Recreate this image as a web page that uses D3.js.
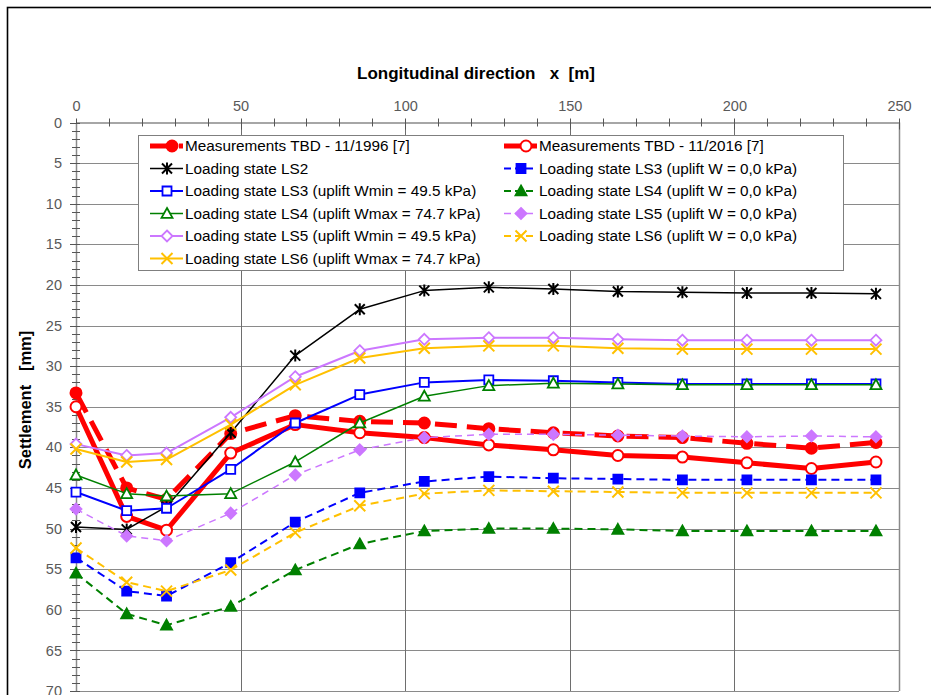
<!DOCTYPE html>
<html>
<head>
<meta charset="utf-8">
<script src="https://cdn.jsdelivr.net/npm/d3@7"></script>
<style>
  body { margin: 0; background: #fff; }
  svg { display: block; font-family: "Liberation Sans", Arial, sans-serif; }
</style>
</head>
<body>
<div id="chart"></div>
<script>

// positions along the tunnel [m]
var xPos = [0, 15.4, 27.5, 47, 66.6, 86.2, 105.8, 125.4, 145, 164.6, 184.2, 203.8, 223.4, 243];

// settlements [mm]
var meas1996 = [33.3, 45.0, 46.4, 38.3, 36.1, 36.8, 37.0, 37.7, 38.2, 38.6, 38.8, 39.5, 40.1, 39.4];
var meas2016 = [35.0, 48.5, 50.2, 40.7, 37.2, 38.2, 38.8, 39.7, 40.3, 41.0, 41.2, 41.9, 42.6, 41.8];
var ls2      = [49.8, 50.1, 47.3, 38.2, 28.7, 23.0, 20.7, 20.3, 20.5, 20.8, 20.9, 21.0, 21.0, 21.1];
var ls3w0    = [53.6, 57.7, 58.3, 54.2, 49.2, 45.6, 44.2, 43.6, 43.8, 43.9, 44.0, 44.0, 44.0, 44.0];
var ls3wmin  = [45.5, 47.8, 47.5, 42.7, 37.0, 33.5, 32.0, 31.7, 31.8, 32.0, 32.2, 32.2, 32.2, 32.2];
var ls4w0    = [55.5, 60.5, 61.9, 59.6, 55.1, 51.9, 50.3, 50.0, 50.0, 50.1, 50.3, 50.3, 50.3, 50.3];
var ls4wmax  = [43.4, 45.7, 46.0, 45.7, 41.8, 37.0, 33.7, 32.4, 32.1, 32.2, 32.3, 32.3, 32.3, 32.3];
var ls5w0    = [47.6, 50.9, 51.5, 48.1, 43.4, 40.3, 38.8, 38.4, 38.4, 38.5, 38.6, 38.7, 38.6, 38.7];
var ls5wmin  = [39.6, 41.0, 40.7, 36.3, 31.3, 28.1, 26.7, 26.5, 26.5, 26.7, 26.8, 26.8, 26.8, 26.8];
var ls6w0    = [52.4, 56.6, 57.7, 55.1, 50.5, 47.2, 45.7, 45.3, 45.4, 45.5, 45.6, 45.6, 45.6, 45.6];
var ls6wmax  = [40.2, 41.8, 41.5, 37.2, 32.3, 29.0, 27.8, 27.5, 27.5, 27.8, 27.9, 27.9, 27.9, 27.9];

var seriesNames = [
  'Measurements TBD - 11/1996 [7]',
  'Measurements TBD - 11/2016 [7]',
  'Loading state LS2',
  'Loading state LS3 (uplift W = 0,0 kPa)',
  'Loading state LS3 (uplift Wmin = 49.5 kPa)',
  'Loading state LS4 (uplift W = 0,0 kPa)',
  'Loading state LS4 (uplift Wmax = 74.7 kPa)',
  'Loading state LS5 (uplift W = 0,0 kPa)',
  'Loading state LS5 (uplift Wmin = 49.5 kPa)',
  'Loading state LS6 (uplift W = 0,0 kPa)',
  'Loading state LS6 (uplift Wmax = 74.7 kPa)'
];
var seriesValues = [meas1996, meas2016, ls2, ls3w0, ls3wmin, ls4w0, ls4wmax, ls5w0, ls5wmin, ls6w0, ls6wmax];

var xTicks = [0, 50, 100, 150, 200, 250];
var yTicks = [0, 5, 10, 15, 20, 25, 30, 35, 40, 45, 50, 55, 60, 65, 70];

// styles per series (same order as above)
var styles = [
  {color: '#ff0000', width: 5,   dash: '22,10', marker: 'circle',  fill: '#ff0000', size: 5.5},
  {color: '#ff0000', width: 5,   dash: null,   marker: 'circle',   fill: '#ffffff', size: 5.5},
  {color: '#000000', width: 1.5, dash: null,   marker: 'star',     fill: 'none',    size: 5},
  {color: '#0000ff', width: 2,   dash: '8,5',  marker: 'square',   fill: '#0000ff', size: 5},
  {color: '#0000ff', width: 2,   dash: null,   marker: 'square',   fill: '#ffffff', size: 5},
  {color: '#008000', width: 2,   dash: '8,5',  marker: 'triangle', fill: '#008000', size: 5.5},
  {color: '#008000', width: 1.5, dash: null,   marker: 'triangle', fill: '#ffffff', size: 5.5},
  {color: '#cc77ff', width: 1.5, dash: '7,5',  marker: 'diamond',  fill: '#cc77ff', size: 5.5},
  {color: '#cc77ff', width: 2,   dash: null,   marker: 'diamond',  fill: '#ffffff', size: 5.5},
  {color: '#ffc000', width: 2,   dash: '8,5',  marker: 'cross',    fill: 'none',    size: 5.5},
  {color: '#ffc000', width: 2,   dash: null,   marker: 'cross',    fill: 'none',    size: 5.5}
];

var W = 931, H = 695;
var svg = d3.select('#chart').append('svg')
    .attr('width', W)
    .attr('height', H);

// outer chart frame (cropped on right and bottom)
svg.append('rect')
    .attr('x', 7.5).attr('y', 7.5)
    .attr('width', 1000).attr('height', 1000)
    .attr('fill', '#fff')
    .attr('stroke', '#000')
    .attr('stroke-width', 1.6);

var x = d3.scaleLinear().domain([0, 250]).range([76, 899]);
var y = d3.scaleLinear().domain([0, 70]).range([122.5, 691]);

// grid
svg.append('g').selectAll('line.hgrid')
    .data(yTicks.slice(1))
    .enter().append('line')
    .attr('class', 'hgrid')
    .attr('x1', x(0) - 6).attr('x2', x(250))
    .attr('y1', function(d) { return Math.round(y(d)) + 0.5; })
    .attr('y2', function(d) { return Math.round(y(d)) + 0.5; })
    .attr('stroke', '#8a8a8a')
    .attr('stroke-width', 1);

svg.append('g').selectAll('line.vgrid')
    .data([50, 100, 150, 200])
    .enter().append('line')
    .attr('class', 'vgrid')
    .attr('x1', function(d) { return Math.round(x(d)) + 0.5; })
    .attr('x2', function(d) { return Math.round(x(d)) + 0.5; })
    .attr('y1', y(0)).attr('y2', y(70))
    .attr('stroke', '#6e6e6e')
    .attr('stroke-width', 1);

// right border of plot area
svg.append('line')
    .attr('x1', x(250) + 0.5).attr('x2', x(250) + 0.5)
    .attr('y1', y(0)).attr('y2', y(70))
    .attr('stroke', '#8a8a8a').attr('stroke-width', 1.5);

// x axis on top
var xAxis = d3.axisTop(x).tickValues(xTicks).tickSize(0).tickPadding(12);
var gx = svg.append('g')
    .attr('transform', 'translate(0,' + y(0) + ')')
    .call(xAxis);
gx.select('.domain').attr('stroke', '#a6a6a6').attr('stroke-width', 2);
gx.selectAll('text')
    .attr('fill', '#595959')
    .style('font-size', '14.5px')
    .style('font-family', '"Liberation Sans", Arial, sans-serif');

// x minor ticks every 10, major every 50
gx.selectAll('line.xminor')
    .data(d3.range(0, 251, 10))
    .enter().append('line')
    .attr('class', 'xminor')
    .attr('x1', function(d) { return Math.round(x(d)) + 0.5; })
    .attr('x2', function(d) { return Math.round(x(d)) + 0.5; })
    .attr('y1', -4)
    .attr('y2', function(d) { return d % 50 == 0 ? 7 : 4; })
    .attr('stroke', '#555')
    .attr('stroke-width', 1);

// y axis on the left
var yAxis = d3.axisLeft(y).tickValues(yTicks).tickSize(0).tickPadding(14);
var gy = svg.append('g')
    .attr('transform', 'translate(' + x(0) + ',0)')
    .call(yAxis);
gy.select('.domain').attr('stroke', '#8a8a8a').attr('stroke-width', 1.5);
gy.selectAll('text')
    .attr('fill', '#595959')
    .style('font-size', '14.5px')
    .style('font-family', '"Liberation Sans", Arial, sans-serif');

gy.selectAll('line.yminor')
    .data(d3.range(0, 71, 1))
    .enter().append('line')
    .attr('class', 'yminor')
    .attr('x1', function(d) { return d % 5 == 0 ? -6 : -4; })
    .attr('x2', 4)
    .attr('y1', function(d) { return Math.round(y(d)) + 0.5; })
    .attr('y2', function(d) { return Math.round(y(d)) + 0.5; })
    .attr('stroke', '#555')
    .attr('stroke-width', 1);

// axis titles
svg.append('text')
    .attr('x', 476).attr('y', 79)
    .attr('text-anchor', 'middle')
    .style('font-size', '17px')
    .style('font-weight', 'bold')
    .style('white-space', 'pre')
    .text('Longitudinal direction   x  [m]');

svg.append('text')
    .attr('transform', 'translate(31,400) rotate(-90)')
    .attr('text-anchor', 'middle')
    .style('font-size', '16.5px')
    .style('font-weight', 'bold')
    .style('white-space', 'pre')
    .text('Settlement   [mm]');

// marker drawing
function markerPath(type, s) {
  if (type == 'circle') return d3.symbol(d3.symbolCircle, Math.PI * s * s)();
  if (type == 'square') return d3.symbol(d3.symbolSquare, (2 * s - 1) * (2 * s - 1))();
  if (type == 'triangle') return 'M0,' + (-s) + 'L' + s + ',' + (s * 0.8) + 'L' + (-s) + ',' + (s * 0.8) + 'Z';
  if (type == 'diamond') return 'M0,' + (-s) + 'L' + s + ',0L0,' + s + 'L' + (-s) + ',0Z';
  if (type == 'cross') return 'M' + (-s) + ',' + (-s) + 'L' + s + ',' + s + 'M' + s + ',' + (-s) + 'L' + (-s) + ',' + s;
  if (type == 'star') return 'M' + (-s) + ',' + (-s) + 'L' + s + ',' + s + 'M' + s + ',' + (-s) + 'L' + (-s) + ',' + s + 'M0,' + (-s - 1) + 'L0,' + (s + 1);
  return '';
}

function drawMarker(g, st) {
  g.append('path')
    .attr('d', markerPath(st.marker, st.size))
    .attr('fill', st.fill)
    .attr('stroke', st.color)
    .attr('stroke-width', st.marker == 'circle' || st.marker == 'star' || st.marker == 'cross' ? 2 : 1.8);
}

var line = d3.line()
    .x(function(d) { return x(d.x); })
    .y(function(d) { return y(d.y); });

// series, in the order Excel drew them
seriesValues.forEach(function(vals, i) {
  var st = styles[i];
  var pts = vals.map(function(v, j) { return {x: xPos[j], y: v}; });
  var g = svg.append('g').attr('class', 'series s' + i);

  g.append('path')
    .datum(pts)
    .attr('d', line)
    .attr('fill', 'none')
    .attr('stroke', st.color)
    .attr('stroke-width', st.width)
    .attr('stroke-dasharray', st.dash)
    .attr('stroke-linejoin', 'round');

  g.selectAll('g.pt')
    .data(pts)
    .enter().append('g')
    .attr('class', 'pt')
    .attr('transform', function(d) { return 'translate(' + x(d.x) + ',' + y(d.y) + ')'; })
    .each(function() { drawMarker(d3.select(this), st); });
});

// legend
var legend = svg.append('g');
legend.append('rect')
    .attr('x', 138.5).attr('y', 135.5)
    .attr('width', 705).attr('height', 135)
    .attr('fill', '#fff')
    .attr('stroke', '#7f7f7f')
    .attr('stroke-width', 1);

var items = legend.selectAll('g.item')
    .data(seriesNames)
    .enter().append('g')
    .attr('class', 'item')
    .attr('transform', function(d, i) {
      var col = i % 2, row = Math.floor(i / 2);
      return 'translate(' + (col == 0 ? 150 : 504) + ',' + (146 + row * 22.5) + ')';
    });

items.each(function(d, i) {
  var g = d3.select(this);
  var st = styles[i];
  g.append('line')
    .attr('x1', 0).attr('x2', 33)
    .attr('y1', 0).attr('y2', 0)
    .attr('stroke', st.color)
    .attr('stroke-width', st.width)
    .attr('stroke-dasharray', st.dash ? (st.width > 3 ? '25,4' : '7,4') : null);
  var m = g.append('g').attr('transform', 'translate(' + (st.width > 3 ? 22 : 17) + ',0)');
  drawMarker(m, st);
  g.append('text')
    .attr('x', 35).attr('y', 5)
    .style('font-size', '15.3px')
    .attr('fill', '#000')
    .text(d);
});

</script>
</body>
</html>
